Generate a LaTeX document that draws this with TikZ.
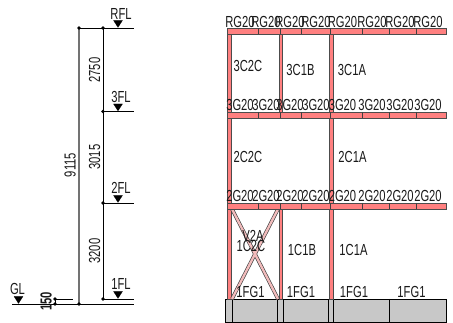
\documentclass[tikz,border=0pt]{standalone}
\usepackage{fontspec}
\newfontfamily\nf[FakeStretch=0.7]{Liberation Sans}
\definecolor{beam}{HTML}{FF8080}
\definecolor{found}{HTML}{C8C8C8}
\definecolor{brace}{HTML}{F2BCBC}
\tikzset{
  lbl/.style={font=\nf\fontsize{16}{16}\selectfont,inner sep=0pt,text=black!90},
  lblv/.style={lbl,rotate=90},
  dimg/.style={draw=black!55,line width=1.1pt},
  dimk/.style={draw=black,line width=0.8pt},
  dotm/.style={circle,fill=black,inner sep=0pt,minimum size=3.6pt},
  lvl/.style={draw=black,fill=black,line width=0.1pt},
  member/.style={draw=black!70,fill=beam,line width=0.6pt},
  tick/.style={draw=black!75,line width=0.6pt},
  fnd/.style={draw=black,fill=found,line width=0.7pt},
  brc/.style={draw=black!75,line width=3.6pt},
  brci/.style={draw=brace,line width=2.3pt}
}
\begin{document}
\begin{tikzpicture}[x=1pt,y=-1pt]
\useasboundingbox (0,0) rectangle (453,323);
% levels coordinates
\coordinate (gA) at (79,28); \coordinate (gB) at (79,304);
\coordinate (kR) at (103,28); \coordinate (k3) at (103,111.5);
\coordinate (k2) at (103,203); \coordinate (k1) at (103,299);
\coordinate (eR) at (134,28); \coordinate (e3) at (134,111.5);
\coordinate (e2) at (134,203); \coordinate (e1) at (134,299);
\coordinate (eG) at (134,304); \coordinate (sG) at (12,304);
\coordinate (s1) at (55,299); \coordinate (s1e) at (73,299);
\coordinate (s0) at (55,304);
\draw[dimk] (sG) -- (eG);
\draw[dimk] (gA) -- (eR);
\draw[dimk] (k3) -- (e3);
\draw[dimk] (k2) -- (e2);
\draw[dimk] (k1) -- (e1);
\draw[dimk,line width=.6pt] (s1) -- (s1e);
\draw[dimk] (s1) -- (s0);
\draw[dimg] (gA) -- (gB);
\draw[dimk] (kR) -- (k1);
\foreach \p in {gA,gB,kR,k3,k2,k1,s1,s0} \node[dotm] at (\p) {};
% level triangles
\foreach \xx/\yy in {118/28,118/111.5,118/203,118/299,18.5/304}
  \draw[lvl] (\xx-4.5,\yy-7.5) -- (\xx+4.5,\yy-7.5) -- (\xx,\yy-.5) -- cycle;
\node[lbl] (tR) at (121,13.5) {RFL};
\node[lbl] (t3) at (121,96.5) {3FL};
\node[lbl] (t2) at (121,188) {2FL};
\node[lbl] (t1) at (121,284) {1FL};
\node[lbl] (tG) at (17.5,288.5) {GL};
\node[lblv] (d1) at (94.5,70) {2750};
\node[lblv] (d2) at (94.5,157) {3015};
\node[lblv] (d3) at (94.5,251) {3200};
\node[lblv] (d4) at (70,165) {9115};
\node[lblv,font=\nf\bfseries\fontsize{16}{16}\selectfont] (d5) at (46,301.5) {150};
% foundation
\draw[fnd] (225,299) rectangle (446.5,322);
\foreach \xx in {232,277,283,328,333,389}
  \draw[fnd,fill=none] (\xx,299) -- (\xx,322);
% columns
\draw[member] (227,28) rectangle (231.5,299);
\draw[member] (279,28) rectangle (282,112);
\draw[member] (279,209) rectangle (282,299);
\draw[member] (329.5,28) rectangle (333,299);
% braces
\draw[brc] (232,209) -- (278,299);
\draw[brc] (278,209) -- (232,299);
\draw[brci] (232,209) -- (278,299);
\draw[brci] (278,209) -- (232,299);
% beams
\foreach \yt/\yb in {28/34.5,112/118,203/209}{
  \draw[member] (227,\yt) rectangle (446.5,\yb);
  \foreach \xx in {258,280,301,330,362,389,416}
    \draw[tick] (\xx,\yt) -- (\xx,\yb);
}
% beam labels
\foreach \xx in {240,266,290,316,342.5,372,400,428}{
  \node[lbl] at (\xx,21.5) {RG20};
  \node[lbl] at (\xx,105) {3G20};
  \node[lbl] at (\xx,195.5) {2G20};
}
\node[lbl] at (248,66) {3C2C};
\node[lbl] at (300.5,69.5) {3C1B};
\node[lbl] at (352,70) {3C1A};
\node[lbl] at (248,157) {2C2C};
\node[lbl] at (352.5,157) {2C1A};
\node[lbl] at (253,236) {V2A};
\node[lbl] at (251,246) {1C2C};
\node[lbl] at (302,249.5) {1C1B};
\node[lbl] at (353.5,249.5) {1C1A};
\node[lbl] at (250.5,291.5) {1FG1};
\node[lbl] at (301,291.5) {1FG1};
\node[lbl] at (354,291.5) {1FG1};
\node[lbl] at (411.5,291.5) {1FG1};
\end{tikzpicture}
\end{document}
